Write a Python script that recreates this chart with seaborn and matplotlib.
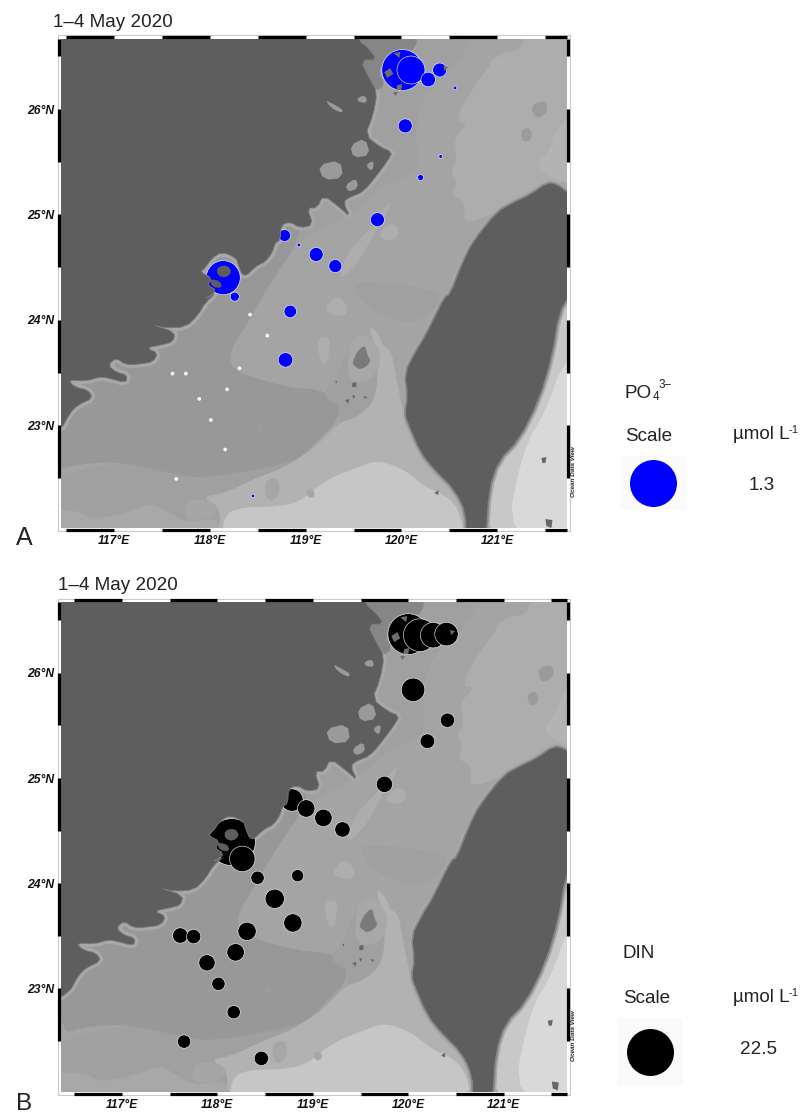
import numpy as np
import pandas as pd
import matplotlib
matplotlib.use('Agg')
import matplotlib.pyplot as plt
import seaborn as sns

# --- station data ---
po4_lon = [120.01, 120.10, 120.28, 120.40, 120.56, 120.04, 120.41, 120.20, 119.75, 118.78, 118.93, 119.11, 119.31, 118.14,
           118.26, 118.84, 118.79, 118.45]
po4_lat = [26.37, 26.37, 26.28, 26.37, 26.20, 25.84, 25.55, 25.35, 24.95, 24.80, 24.71, 24.62, 24.51, 24.40,
           24.22, 24.08, 23.62, 22.33]
po4_val = [0.99, 0.46, 0.124, 0.115, 0.008, 0.115, 0.008, 0.021, 0.115, 0.085, 0.008, 0.115, 0.10, 0.68,
           0.048, 0.092, 0.124, 0.007]

# stations with next to nothing, they show up as white dots
po4_low_lon = [118.42, 118.60, 118.31, 117.61, 117.75, 118.18, 117.89, 118.01, 118.16, 117.65]
po4_low_lat = [24.05, 23.85, 23.54, 23.49, 23.49, 23.34, 23.25, 23.05, 22.77, 22.49]
po4_low_val = [0.008, 0.008, 0.008, 0.008, 0.008, 0.008, 0.008, 0.008, 0.008, 0.008]

din_lon = [120.00, 120.12, 120.26, 120.40, 120.05, 120.41, 120.20, 119.75, 118.78, 118.93, 119.11, 119.31, 118.15, 118.26,
           118.42, 118.84, 118.60, 118.79, 118.31, 117.61, 117.75, 118.19, 117.89, 118.01, 118.17, 117.65, 118.46]
din_lat = [26.37, 26.36, 26.36, 26.37, 25.84, 25.55, 25.35, 24.94, 24.79, 24.71, 24.62, 24.51, 24.39, 24.23,
           24.05, 24.07, 23.85, 23.62, 23.54, 23.50, 23.49, 23.34, 23.24, 23.04, 22.77, 22.49, 22.33]
din_val = [17.0, 10.9, 6.6, 5.6, 5.6, 2.1, 2.2, 2.7, 5.1, 3.1, 3.1, 2.4, 22.5, 6.6,
           1.8, 1.5, 3.8, 3.4, 3.4, 2.4, 2.1, 3.1, 2.7, 1.8, 1.8, 1.8, 2.1]

scale_po4 = [1.3]
scale_din = [22.5]

x_ticks = [117, 118, 119, 120, 121]
x_labels = ['117°E', '118°E', '119°E', '120°E', '121°E']
y_ticks = [23, 24, 25, 26]
y_labels = ['23°N', '24°N', '25°N', '26°N']

# --- base map outlines, digitised on the upper panel, converted to lon/lat below ---
china = [(-300, -300), (358, 30), (358, 40), (368, 48), (377, 60), (360, 60), (370, 80), (377, 92), (373, 115), (365, 135),
         (380, 147), (392, 152), (388, 160), (377, 175), (363, 192), (350, 197), (343, 202), (350, 217), (340, 208),
         (323, 195), (317, 208), (307, 208), (313, 225), (300, 228), (290, 222), (281, 225), (280, 240), (275, 243),
         (272, 253), (265, 262), (258, 265), (252, 270), (247, 275), (242, 275), (238, 265), (236, 258), (222, 252),
         (212, 258), (205, 268), (200, 272), (212, 278), (207, 285), (216, 290), (210, 297), (205, 298),
         (216, 293), (205, 303), (198, 315), (186, 327), (165, 328), (153, 325), (175, 332), (173, 342), (161, 345),
         (146, 348), (158, 353), (153, 362), (140, 364), (126, 365), (116, 358), (108, 365), (116, 372), (127, 375),
         (126, 383), (108, 378), (100, 377), (86, 381), (68, 380), (75, 387), (88, 390), (93, 398), (78, 405),
         (70, 413), (61, 430), (40, 440)]
land_islets = [[(217, 267), (227, 265), (232, 272), (225, 278), (217, 275)],
               [(209, 279), (220, 281), (222, 288), (212, 287)]]
islets = [[(384, 72), (390, 68), (393, 74), (387, 78)],
          [(397, 85), (402, 84), (401, 90), (396, 90)],
          [(393, 53), (400, 52), (399, 58)],
          [(393, 92), (398, 92), (395, 96)],
          [(443, 66), (448, 67), (444, 71)]]
north_shoal = [(358, 30), (417, 30), (416, 48), (402, 54), (385, 58), (378, 72), (385, 85), (375, 92), (360, 60)]
bay_streaks = [[(325, 100), (335, 105), (343, 110), (341, 113), (331, 108)],
               [(357, 98), (365, 95), (367, 103), (358, 102)],
               [(318, 165), (340, 160), (343, 178), (323, 180)],
               [(350, 145), (365, 138), (370, 155), (353, 158)],
               [(345, 185), (356, 178), (358, 188), (348, 192)],
               [(365, 165), (374, 160), (372, 172)]]

taiwan = [(450, 295), (463, 262), (473, 242), (497, 212), (513, 203), (530, 195), (547, 183), (557, 185), (567, 193),
          (590, 200), (590, 293), (570, 293), (558, 313), (551, 357), (538, 400), (518, 440), (498, 460), (488, 490),
          (485, 540), (466, 540), (466, 513), (455, 490), (435, 470), (421, 453), (408, 423), (405, 413), (408, 397),
          (405, 373), (415, 353), (425, 337), (435, 317), (445, 297)]

strait_east = [(523, 30), (523, 45), (513, 52), (500, 52), (480, 78), (460, 108), (457, 123), (468, 123), (453, 138),
               (457, 158), (450, 172), (457, 182), (450, 195), (465, 202), (463, 225), (497, 212), (530, 195),
               (590, 170), (590, 30)]
ne_corner = [(590, 115), (570, 115), (555, 130), (550, 150), (535, 165), (550, 178), (590, 190)]
coastal_band = [(473, 30), (460, 62), (433, 85), (420, 105), (415, 135), (418, 162), (413, 175), (377, 188), (357, 212),
                (300, 238), (270, 283), (243, 313), (200, 340), (40, 340), (40, 30)]
strait_streak = [(390, 200), (367, 232), (347, 252), (337, 282), (357, 265), (373, 235), (390, 208)]
west_deep = [(40, 465), (300, 455), (285, 467), (251, 480), (225, 493), (201, 497), (221, 507), (218, 540), (40, 540)]
basin = [(40, 473), (91, 462), (125, 463), (158, 470), (191, 478), (225, 475), (265, 468), (298, 460), (311, 447),
         (325, 433), (335, 423), (341, 407), (325, 390), (291, 388), (251, 377), (231, 368), (230, 350), (245, 327),
         (270, 283), (300, 240), (300, 200), (40, 200)]
penghu_shelf = [(320, 395), (338, 377), (345, 350), (375, 345), (378, 370), (375, 400), (358, 417), (338, 423), (341, 407)]
south_light = [(368, 325), (378, 333), (383, 347), (391, 350), (395, 373), (401, 403), (405, 423), (421, 457), (435, 477),
               (455, 490), (466, 513), (466, 540), (218, 540), (221, 507), (201, 497), (225, 493), (251, 480), (285, 467),
               (311, 450), (325, 437), (338, 423), (358, 417), (375, 400), (378, 370), (375, 347)]
south_lighter = [(221, 540), (225, 513), (245, 507), (271, 507), (298, 503), (325, 480), (358, 467), (378, 460), (405, 470),
                 (425, 487), (441, 493), (458, 507), (466, 540)]
south_patches = [[(265, 480), (278, 477), (280, 493), (272, 502), (265, 497)],
                 [(305, 490), (313, 488), (315, 497), (308, 498)],
                 [(185, 503), (201, 498), (221, 507), (208, 520), (185, 520)]]
sw_light = [(40, 510), (78, 510), (91, 520), (125, 513), (151, 503), (165, 510), (185, 523), (221, 517), (218, 540), (40, 540)]
east_coast = [(570, 293), (558, 313), (551, 357), (538, 400), (518, 440), (498, 460), (488, 490), (485, 540), (590, 540), (590, 293)]
east_lighter = [(590, 350), (562, 362), (546, 410), (522, 450), (505, 540), (590, 540)]
shelf_north = [(355, 290), (365, 307), (392, 318), (405, 323), (425, 318), (448, 290), (355, 280)]
light_blobs = [[(325, 337), (330, 338), (328, 363), (321, 365), (316, 340)],
               [(328, 303), (338, 295), (348, 307), (345, 317), (325, 313)],
               [(378, 233), (392, 222), (400, 230), (395, 240), (382, 240)],
               [(488, 62), (500, 55), (507, 62), (505, 72), (492, 72)]]
dark_blobs = [[(256, 423), (262, 422), (264, 430), (258, 432)],
              [(530, 105), (545, 100), (548, 112), (535, 120)],
              [(520, 130), (530, 127), (532, 140), (522, 142)]]
penghu_halo = [(348, 357), (351, 340), (364, 333), (381, 350), (378, 373), (364, 383), (348, 380)]
penghu = [(352, 362), (358, 350), (365, 345), (367, 355), (371, 362), (361, 370), (354, 366)]
rock_spots = [[(352, 383), (356, 382), (356, 387), (352, 387)], [(345, 400), (349, 399), (348, 404)],
              [(352, 395), (355, 396), (353, 399)], [(363, 396), (367, 397), (365, 399)],
              [(335, 381), (337, 381), (336, 384)]]
dark_spots = [[(541, 458), (546, 457), (545, 463), (542, 463)], [(545, 519), (552, 520), (551, 528), (546, 526)],
              [(434, 493), (438, 490), (438, 495)]]


def to_lonlat(points):
    pts = np.array(points, dtype=float)
    return 117 + (pts[:, 0] - 114) / 95.7, 26 - (pts[:, 1] - 109) / 105.4


def smooth(points, rounds=2):
    # corner cutting so the depth bands do not look like polygons
    pts = np.array(points, dtype=float)
    for _ in range(rounds):
        nxt = np.roll(pts, -1, axis=0)
        pts = np.column_stack([0.75 * pts + 0.25 * nxt, 0.25 * pts + 0.75 * nxt]).reshape(-1, 2)
    return pts


def draw_map(ax):
    ax.set_facecolor('#a4a4a4')
    capas = [(strait_east, '#adadad'), (ne_corner, '#b3b3b3'), (coastal_band, '#a0a0a0'), (strait_streak, '#adadad'),
             (shelf_north, '#a0a0a0'), (west_deep, '#a0a0a0'), (basin, '#989898'), (penghu_shelf, '#a0a0a0'),
             (sw_light, '#a8a8a8'), (south_light, '#b2b2b2'), (south_lighter, '#c6c6c6'), (east_coast, '#c8c8c8'),
             (east_lighter, '#d9d9d9'), (penghu_halo, '#a8a8a8')]
    for poly, col in capas:
        x, y = to_lonlat(smooth(poly))
        ax.fill(x, y, color=col, lw=0, zorder=1)
    for poly in south_patches:
        x, y = to_lonlat(smooth(poly))
        ax.fill(x, y, color='#a6a6a6', lw=0, zorder=1.1)
    for poly in light_blobs:
        x, y = to_lonlat(smooth(poly))
        ax.fill(x, y, color='#aeaeae', lw=0, zorder=1.1)
    for poly in dark_blobs:
        x, y = to_lonlat(smooth(poly))
        ax.fill(x, y, color='#9b9b9b', lw=0, zorder=1.1)

    # soft fringe around the land, under the stations
    x, y = to_lonlat(smooth(china, 1))
    ax.fill(x, y, fc='none', ec='#a8a8a8', lw=5, joinstyle='round', zorder=1.4)
    x, y = to_lonlat(smooth(taiwan, 1))
    ax.fill(x, y, fc='none', ec='#a8a8a8', lw=5, joinstyle='round', zorder=1.4)
    ax.fill(x, y, fc='none', ec='#858585', lw=2.5, joinstyle='round', zorder=1.5)
    x, y = to_lonlat(smooth(north_shoal, 1))
    ax.fill(x, y, color='#868686', lw=0, zorder=1.5)

    # land goes over the stations, that is why the big circles look cut
    x, y = to_lonlat(smooth(china, 1))
    ax.fill(x, y, fc='#5e5e5e', ec='#7c7c7c', lw=0.6, zorder=3)
    x, y = to_lonlat(smooth(taiwan, 1))
    ax.fill(x, y, color='#5e5e5e', lw=0, zorder=3)
    for poly in land_islets:
        x, y = to_lonlat(smooth(poly, 1))
        ax.fill(x, y, color='#5e5e5e', lw=0, zorder=3)
    for poly in islets:
        x, y = to_lonlat(poly)
        ax.fill(x, y, color='#6e6e6e', lw=0, zorder=3)
    for poly in bay_streaks:
        x, y = to_lonlat(smooth(poly, 1))
        ax.fill(x, y, color='#9a9a9a', lw=0, zorder=3.1)
    x, y = to_lonlat(smooth(penghu, 1))
    ax.fill(x, y, color='#7a7a7a', lw=0, zorder=1.6)
    for poly in rock_spots + dark_spots:
        x, y = to_lonlat(poly)
        ax.fill(x, y, color='#666666', lw=0, zorder=1.6)


def draw_frame(ax):
    x0, x1 = ax.get_xlim()
    y0, y1 = ax.get_ylim()
    off_x = 1.6 / 95.6
    off_y = 1.6 / 105.2
    for a in np.arange(116.5, x1, 1):
        b = min(a + 0.5, x1)
        for yy in (y0 - off_y, y1 + off_y):
            ax.plot([a, b], [yy, yy], color='black', lw=2.3, solid_capstyle='butt', clip_on=False, zorder=6)
    for a in np.arange(22.5, y1, 1):
        b = min(a + 0.5, y1)
        for xx in (x0 - off_x, x1 + off_x):
            ax.plot([xx, xx], [a, b], color='black', lw=2.3, solid_capstyle='butt', clip_on=False, zorder=6)
    marco = plt.Rectangle((x0 - 2 * off_x, y0 - 2 * off_y), x1 - x0 + 4 * off_x, y1 - y0 + 4 * off_y,
                          fc='none', ec='#c9c9c9', lw=0.8, clip_on=False, zorder=5)
    ax.add_patch(marco)


def panel(left, top, right, bottom, xlim, ylim):
    return fig.add_axes([left / W, 1 - bottom / H, (right - left) / W, (bottom - top) / H], xlim=xlim, ylim=ylim)


def draw_stations(ax, lon, lat, val, color, ref, lw=0.4):
    df = pd.DataFrame({'lon': lon, 'lat': lat, 'val': val})
    sns.scatterplot(data=df, x='lon', y='lat', size='val', sizes=(0, MAX_AREA), size_norm=(0, ref), color=color,
                    edgecolor='white', linewidth=lw, legend=False, ax=ax, zorder=2, clip_on=True)


def style_axes(ax):
    ax.set_xticks(x_ticks)
    ax.set_xticklabels(x_labels, fontsize=8.7, fontweight='bold', fontstyle='italic', color='#111111')
    ax.set_yticks(y_ticks)
    ax.set_yticklabels(y_labels, fontsize=8.7, fontweight='bold', fontstyle='italic', color='#111111')
    ax.tick_params(axis='x', length=0, pad=5)
    ax.tick_params(axis='y', length=0, pad=5)
    ax.set_xlabel('')
    ax.set_ylabel('')
    for s in ax.spines.values():
        s.set_visible(False)
    ax.grid(False)


def scale_box(left, top, right, bottom, val, color, ref):
    ax = panel(left, top, right, bottom, (0, 1), (0, 1))
    ax.set_facecolor('#fafafa')
    df = pd.DataFrame({'x': [0.5], 'y': [0.5], 'val': val})
    sns.scatterplot(data=df, x='x', y='y', size='val', sizes=(0, MAX_AREA), size_norm=(0, ref), color=color,
                    edgecolor=color, linewidth=0, legend=False, ax=ax)
    ax.set_xticks([])
    ax.set_yticks([])
    ax.set_xlabel('')
    ax.set_ylabel('')
    for s in ax.spines.values():
        s.set_visible(False)


def label(x, y, txt, size=13.6, **kw):
    fig.text(x / W, 1 - y / H, txt, fontsize=size, color='#222222', va='baseline', **kw)


sns.set_style('white')
plt.rcParams['font.family'] = ['Liberation Sans', 'DejaVu Sans']

W, H = 803, 1115
MAX_AREA = 1145  # pt^2 of the scale circle, 47 px wide
fig = plt.figure(figsize=(W / 100, H / 100), dpi=100)

# --- panel A ---
ax_a = panel(61, 38.5, 566.7, 528, (116.446, 121.726), (22.025, 26.669))
draw_map(ax_a)
draw_stations(ax_a, po4_lon, po4_lat, po4_val, '#0000ff', scale_po4[0])
draw_stations(ax_a, po4_low_lon, po4_low_lat, po4_low_val, 'white', scale_po4[0], lw=0)
style_axes(ax_a)
draw_frame(ax_a)

# --- panel B ---
ax_b = panel(61, 602, 566.7, 1092, (116.36, 121.66), (22.01, 26.676))
draw_map(ax_b)
draw_stations(ax_b, din_lon, din_lat, din_val, 'black', scale_din[0])
style_axes(ax_b)
draw_frame(ax_b)

# --- scale boxes and text ---
scale_box(620, 456, 686, 510, scale_po4, '#0000ff', scale_po4[0])
scale_box(617, 1018, 683, 1085, scale_din, 'black', scale_din[0])

label(53, 27, '1–4 May 2020')
label(58, 590, '1–4 May 2020')
label(16, 545, 'A', size=18)
label(16, 1110, 'B', size=17.5)
label(625, 398, 'PO')
label(653, 400, '4', size=8.5)
label(659, 388, '3−', size=8.5)
label(625, 441, 'Scale')
label(733, 439, 'µmol L')
label(789, 433, '-1', size=8)
label(762, 490, '1.3', ha='center')
label(623, 958, 'DIN')
label(623, 1003, 'Scale')
label(733, 1002, 'µmol L')
label(789, 996, '-1', size=8)
label(759, 1054, '22.5', ha='center')

for y in (472, 1036):
    fig.text(574 / W, 1 - y / H, 'Ocean Data View', rotation=90, fontsize=4.6, fontweight='bold', fontstyle='italic',
             color='#222222', ha='center', va='center')

fig.savefig('out.png', dpi=100)
